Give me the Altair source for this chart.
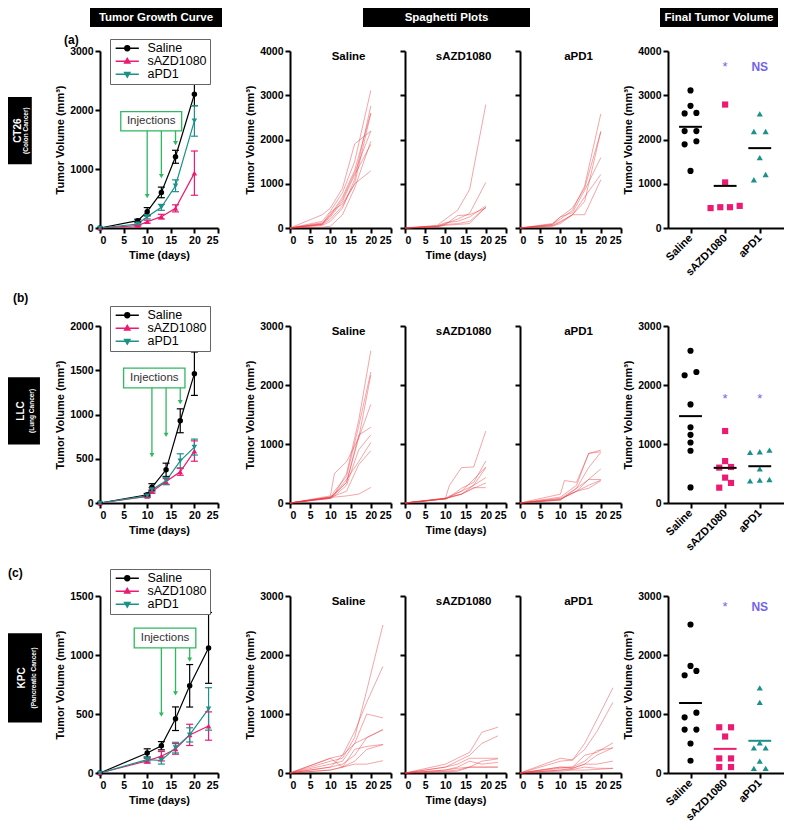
import altair as alt
import pandas as pd

GROUPS = ["Saline", "sAZD1080", "aPD1"]
GROUP_COLORS = ["#000000", "#ec1a72", "#1b9189"]
GROUP_SHAPES = ["circle", "triangle-up", "triangle-down"]
FINAL_SHAPES = ["circle", "square", "triangle-up"]
RED = "#e8383d"
GREEN = "#2fb85f"
SIG = "#7363ea"
FONT = "Liberation Sans"
NUMFONT = "Liberation Sans"
YT = "Tumor Volume (mm\u00b3)"
H = 177

# ---------------- (a) CT26 ----------------
a_days = [0, 8, 10, 13, 16, 20]
a_mean_saline = [0, 124, 276, 603, 1207, 2267]
a_mean_sazd = [0, 40, 107, 192, 333, 930]
a_mean_apd1 = [0, 68, 190, 350, 716, 1816]
a_sem_saline = [0, 25, 70, 90, 110, 195]
a_sem_sazd = [0, 10, 25, 40, 60, 375]
a_sem_apd1 = [0, 15, 35, 50, 100, 260]
a_inj_days = [10, 13, 16]
a_inj_tips = [540, 880, 1440]
a_inj_box = [4.4, 17.3, 1647, 1974]
a_spag_saline = [
    [0, 150, 380, 800, 1500, 3110],
    [0, 60, 150, 450, 1100, 2760],
    [0, 120, 300, 700, 1300, 2600],
    [0, 80, 200, 500, 1000, 2590],
    [0, 300, 450, 900, 1900, 2190],
    [0, 100, 280, 650, 1250, 2190],
    [0, 20, 40, 300, 900, 1960],
    [0, 90, 250, 600, 1200, 1890],
    [0, 80, 350, 550, 1000, 1290],
]
a_spag_sazd = [
    [0, 60, 200, 400, 870, 2790],
    [0, 40, 100, 200, 330, 1030],
    [0, 30, 80, 280, 300, 450],
    [0, 50, 120, 150, 250, 500],
    [0, 30, 80, 100, 150, 470],
    [0, 30, 60, 80, 100, 470],
]
a_spag_apd1 = [
    [0, 80, 200, 400, 950, 2580],
    [0, 100, 250, 450, 900, 2180],
    [0, 60, 150, 300, 600, 2180],
    [0, 80, 250, 350, 850, 1590],
    [0, 40, 100, 300, 700, 1210],
    [0, 50, 130, 300, 300, 1090],
]
a_final_saline = [3110, 2760, 2600, 2590, 2190, 2190, 1960, 1890, 1290]
a_final_sazd = [2790, 1030, 450, 500, 470, 470]
a_final_apd1 = [2580, 2180, 2180, 1590, 1210, 1090]
a_sig = ["", "*", "NS"]
a_sig_y = 3640

# ---------------- (b) LLC ----------------
b_days = [0, 10, 11, 14, 17, 20]
b_mean_saline = [0, 93, 178, 375, 929, 1461]
b_mean_sazd = [0, 74, 130, 242, 353, 587]
b_mean_apd1 = [0, 80, 150, 250, 476, 632]
b_sem_saline = [0, 15, 40, 75, 135, 245]
b_sem_sazd = [0, 12, 20, 35, 40, 115]
b_sem_apd1 = [0, 12, 25, 40, 80, 90]
b_inj_days = [11, 14, 17]
b_inj_tips = [540, 770, 1140]
b_inj_box = [5.0, 18.0, 1301, 1524]
b_spag_saline = [
    [0, 100, 150, 500, 1400, 2580],
    [0, 90, 200, 450, 1300, 2221],
    [0, 80, 150, 350, 1100, 2165],
    [0, 120, 500, 700, 1100, 1671],
    [0, 100, 150, 350, 1150, 1284],
    [0, 80, 120, 300, 900, 1155],
    [0, 90, 150, 400, 700, 1026],
    [0, 100, 120, 200, 650, 886],
    [0, 80, 100, 120, 150, 264],
]
b_spag_sazd = [
    [0, 80, 300, 600, 610, 1220],
    [0, 70, 100, 250, 350, 710],
    [0, 80, 120, 200, 400, 610],
    [0, 70, 100, 200, 300, 600],
    [0, 80, 90, 150, 300, 430],
    [0, 70, 100, 150, 250, 340],
    [0, 70, 100, 150, 260, 260],
]
b_spag_apd1 = [
    [0, 150, 380, 350, 840, 897],
    [0, 100, 150, 300, 840, 869],
    [0, 80, 120, 250, 600, 858],
    [0, 60, 100, 250, 400, 578],
    [0, 70, 100, 200, 400, 398],
    [0, 50, 100, 200, 300, 387],
    [0, 50, 100, 200, 250, 376],
]
b_final_saline = [2580, 2221, 2165, 1671, 1284, 1155, 1026, 886, 264]
b_final_sazd = [1220, 710, 610, 600, 430, 340, 260]
b_final_apd1 = [897, 869, 858, 578, 398, 387, 376]
b_sig = ["", "*", "*"]
b_sig_y = 1755

# ---------------- (c) KPC ----------------
c_days = [0, 10, 13, 16, 19, 23]
c_mean_saline = [0, 170, 231, 460, 739, 1060]
c_mean_sazd = [0, 103, 142, 204, 323, 398]
c_mean_apd1 = [0, 114, 106, 215, 323, 543]
c_sem_saline = [0, 35, 35, 100, 180, 300]
c_sem_sazd = [0, 20, 40, 45, 90, 120]
c_sem_apd1 = [0, 20, 30, 45, 60, 180]
c_inj_days = [13, 16, 19]
c_inj_tips = [495, 675, 960]
c_inj_box = [7.25, 20.3, 1060, 1227]
c_spag_saline = [
    [0, 200, 250, 600, 1400, 2510],
    [0, 100, 300, 700, 1200, 1806],
    [0, 250, 300, 500, 1000, 934],
    [0, 150, 200, 500, 600, 730],
    [0, 100, 150, 300, 600, 740],
    [0, 250, 100, 400, 450, 484],
    [0, 50, 100, 150, 150, 208],
    [0, 50, 100, 200, 400, 480],
]
c_spag_sazd = [
    [0, 150, 250, 350, 690, 777],
    [0, 100, 200, 300, 500, 630],
    [0, 100, 150, 250, 250, 250],
    [0, 50, 100, 200, 150, 180],
    [0, 50, 80, 100, 100, 100],
    [0, 20, 30, 100, 100, 100],
    [0, 30, 50, 100, 200, 240],
]
c_spag_apd1 = [
    [0, 250, 220, 500, 900, 1444],
    [0, 200, 220, 400, 700, 1197],
    [0, 100, 100, 300, 350, 511],
    [0, 80, 100, 200, 380, 427],
    [0, 100, 80, 150, 300, 427],
    [0, 50, 80, 150, 150, 202],
    [0, 50, 60, 100, 80, 79],
    [0, 30, 50, 50, 60, 79],
]
c_final_saline = [2517, 1815, 1730, 1657, 1022, 944, 736, 736, 500, 208]
c_final_sazd = [775, 775, 618, 247, 247, 101, 101]
c_final_apd1 = [1444, 1197, 511, 427, 427, 202, 79, 79]
c_sig = ["", "*", "NS"]
c_sig_y = 2820

ROW_NAMES = ["CT26", "LLC", "KPC"]
ROW_SUBS = ["(Colon Cancer)", "(Lung Cancer)", "(Pancreatic Cancer)"]
HEADERS = ["Tumor Growth Curve", "Spaghetti Plots", "Final Tumor Volume"]

# legend symbols: a short line with the group's marker on it
LEGEND_SYMBOLS = [
    "M-2.9,0H2.9M-0.6,0A0.6,0.6,0,1,0,0.6,0A0.6,0.6,0,1,0,-0.6,0Z",
    "M-2.9,0H2.9M0,-0.7L0.65,0.45L-0.65,0.45Z",
    "M-2.9,0H2.9M0,0.7L0.65,-0.45L-0.65,-0.45Z",
]
DAY_TICKS = [0, 5, 10, 15, 20, 25]


def legend(ly):
    return alt.Legend(
        title=None, orient="none", legendX=10, legendY=ly,
        strokeColor="#666666", fillColor="white", padding=3,
        labelFont=FONT, labelFontSize=12.5, labelColor="black", labelFontWeight="normal",
        labelOffset=14, symbolOffset=8, rowPadding=0, symbolSize=64, symbolStrokeWidth=1.5,
    )


def growth(days, means, sems, ymax, ystep, inj_days, inj_tips, box, ly, title=None):
    recs = []
    for g, m, s in zip(GROUPS, means, sems):
        for d, mv, sv in zip(days, m, s):
            recs.append({"group": g, "day": d, "mean": mv, "lo": mv - sv, "hi": mv + sv})
    df = pd.DataFrame(recs)
    xs = alt.Scale(domain=[0, 25], nice=False)
    ys = alt.Scale(domain=[0, ymax], nice=False)
    xax = alt.Axis(values=DAY_TICKS, labelOverlap=False)
    yax = alt.Axis(values=list(range(0, ymax + 1, ystep)), labelOverlap=False)
    X = alt.X("day:Q", scale=xs, axis=xax, title="Time (days)")
    cscale = alt.Scale(domain=GROUPS, range=GROUP_COLORS)
    lg = legend(ly)
    color = alt.Color("group:N", scale=cscale)
    base = alt.Chart(df)
    leg = base.transform_filter("false").mark_point(filled=True, strokeWidth=1.5, opacity=1).encode(
        x=X, y=alt.Y("mean:Q", scale=ys, axis=yax, title=YT),
        color=alt.Color("group:N", scale=cscale, legend=lg),
        shape=alt.Shape("group:N", scale=alt.Scale(domain=GROUPS, range=LEGEND_SYMBOLS), legend=lg))
    line = base.mark_line(strokeWidth=1.2).encode(
        x=X, y=alt.Y("mean:Q", scale=ys, axis=yax, title=YT), color=color)
    err = base.transform_filter("datum.hi > datum.lo")
    bars = err.mark_rule(strokeWidth=1.2).encode(
        x=X, y=alt.Y("lo:Q", scale=ys, axis=yax, title=YT), y2="hi:Q", color=color)
    cap_lo = err.mark_point(shape="stroke", size=49, strokeWidth=1.2, opacity=1).encode(
        x=X, y=alt.Y("lo:Q", scale=ys, axis=yax, title=YT), color=color)
    cap_hi = err.mark_point(shape="stroke", size=49, strokeWidth=1.2, opacity=1).encode(
        x=X, y=alt.Y("hi:Q", scale=ys, axis=yax, title=YT), color=color)
    pts = [
        base.transform_filter(alt.datum.group == g).mark_point(
            filled=True, shape=shp, size=30, opacity=1).encode(
            x=X, y=alt.Y("mean:Q", scale=ys, axis=yax, title=YT), color=color)
        for g, shp in zip(GROUPS, GROUP_SHAPES)
    ]

    bdf = pd.DataFrame([{"x0": box[0], "x1": box[1], "y0": box[2], "y1": box[3],
                         "xc": (box[0] + box[1]) / 2, "yc": (box[2] + box[3]) / 2, "t": "Injections"}])
    rect = alt.Chart(bdf).mark_rect(fill="white", stroke=GREEN, strokeWidth=1.3).encode(
        x=alt.X("x0:Q", scale=xs, axis=xax, title="Time (days)"), x2="x1:Q",
        y=alt.Y("y0:Q", scale=ys, axis=yax, title=YT), y2="y1:Q")
    txt = alt.Chart(bdf).mark_text(font=FONT, fontSize=11.5, color="#333333").encode(
        x=alt.X("xc:Q", scale=xs, axis=xax, title="Time (days)"),
        y=alt.Y("yc:Q", scale=ys, axis=yax, title=YT), text="t:N")
    idf = pd.DataFrame({"day": inj_days, "tip": inj_tips, "top": [box[2]] * len(inj_days)})
    arrows = alt.Chart(idf).mark_rule(color=GREEN, strokeWidth=1.3).encode(
        x=alt.X("day:Q", scale=xs, axis=xax, title="Time (days)"),
        y=alt.Y("top:Q", scale=ys, axis=yax, title=YT), y2="tip:Q")
    heads = alt.Chart(idf).mark_point(shape="triangle-down", filled=True, size=24, color=GREEN,
                                      opacity=1).encode(
        x=alt.X("day:Q", scale=xs, axis=xax, title="Time (days)"),
        y=alt.Y("tip:Q", scale=ys, axis=yax, title=YT))
    ch = alt.layer(leg, line, bars, cap_lo, cap_hi, *pts, rect, txt, arrows, heads).properties(
        width=118, height=H)
    if title is not None:
        ch = ch.properties(title=title)
    return ch


def spag(days, lines, ymax, name, first, middle):
    recs = [{"id": i, "day": d, "vol": v} for i, ln in enumerate(lines) for d, v in zip(days, ln)]
    df = pd.DataFrame(recs)
    xs = alt.Scale(domain=[0, 25], nice=False)
    ys = alt.Scale(domain=[0, ymax], nice=False)
    xt = "Time (days)" if middle else None
    yt = YT if first else None
    xax = alt.Axis(values=DAY_TICKS, labelOverlap=False)
    yax = alt.Axis(values=list(range(0, ymax + 1, 1000)), labelOverlap=False, labels=first)
    ln = alt.Chart(df).mark_line(color=RED, strokeWidth=1, opacity=0.45).encode(
        x=alt.X("day:Q", scale=xs, axis=xax, title=xt),
        y=alt.Y("vol:Q", scale=ys, axis=yax, title=yt), detail="id:N")
    lbl = alt.Chart(pd.DataFrame({"t": [name]})).mark_text(
        font=FONT, fontWeight="bold", fontSize=11.5, color="black").encode(
        x=alt.XDatum(14.5, scale=xs, axis=xax, title=xt),
        y=alt.YDatum(ymax * 0.965, scale=ys, axis=yax, title=yt), text="t:N")
    return alt.layer(ln, lbl).properties(width=101, height=H)


def jitter(vals, ymax):
    thr = ymax * 0.04
    order = sorted(range(len(vals)), key=lambda i: vals[i])
    clusters = []
    for i in order:
        if clusters and vals[i] - vals[clusters[-1][-1]] < thr:
            clusters[-1].append(i)
        else:
            clusters.append([i])
    offs = [0.0] * len(vals)
    for c in clusters:
        n = len(c)
        if n == 1:
            continue
        spread = vals[c[-1]] - vals[c[0]]
        if n == 2:
            pat = [-0.17, 0.17]
        elif n == 3 and spread > thr * 0.5:
            pat = [-0.17, 0.17, 0.0]
        else:
            pat = [(k - (n - 1) / 2) * 0.28 for k in range(n)]
        for i, o in zip(c, pat):
            offs[i] = o
    return offs


def final(vals, ymax, sig, sig_y, mean_colors):
    recs = []
    mrecs = []
    for gi, (g, v) in enumerate(zip(GROUPS, vals)):
        for val, o in zip(v, jitter(v, ymax)):
            recs.append({"group": g, "gx": gi + o, "vol": val})
        mrecs.append({"gx0": gi - 0.33, "gx1": gi + 0.33, "m": sum(v) / len(v), "mc": mean_colors[gi]})
    df = pd.DataFrame(recs)
    mdf = pd.DataFrame(mrecs)
    xs = alt.Scale(domain=[-0.65, 2.7], nice=False)
    ys = alt.Scale(domain=[0, ymax], nice=False)
    xax = alt.Axis(values=[0, 1, 2], labelAngle=-45, labelAlign="right", labelBaseline="middle",
                   labelPadding=3, labelOverlap=False, title=None, labelFont=FONT, labelFontSize=11,
                   labelExpr="datum.value == 0 ? 'Saline' : datum.value == 1 ? 'sAZD1080' : 'aPD1'")
    yax = alt.Axis(values=list(range(0, ymax + 1, 1000)), labelOverlap=False, title=YT)
    pts = alt.Chart(df).mark_point(filled=True, size=38, opacity=1).encode(
        x=alt.X("gx:Q", scale=xs, axis=xax), y=alt.Y("vol:Q", scale=ys, axis=yax),
        color=alt.Color("group:N", scale=alt.Scale(domain=GROUPS, range=GROUP_COLORS), legend=None),
        shape=alt.Shape("group:N", scale=alt.Scale(domain=GROUPS, range=FINAL_SHAPES), legend=None))
    mean = alt.Chart(mdf).mark_rule(strokeWidth=2).encode(
        x=alt.X("gx0:Q", scale=xs, axis=xax), x2="gx1:Q",
        y=alt.Y("m:Q", scale=ys, axis=yax), color=alt.Color("mc:N", scale=None))
    sdf = pd.DataFrame({"gx": [0, 1, 2], "t": sig, "sy": [sig_y] * 3})
    star = alt.Chart(sdf).transform_filter("datum.t == '*'").mark_text(
        font=FONT, fontSize=13, color=SIG).encode(
        x=alt.X("gx:Q", scale=xs, axis=xax), y=alt.Y("sy:Q", scale=ys, axis=yax), text="t:N")
    ns = alt.Chart(sdf).transform_filter("datum.t == 'NS'").mark_text(
        font=FONT, fontSize=12, fontWeight="bold", color=SIG).encode(
        x=alt.X("gx:Q", scale=xs, axis=xax), y=alt.Y("sy:Q", scale=ys, axis=yax), text="t:N")
    return alt.layer(pts, mean, star, ns).properties(width=116, height=H)


def rowlabel(name, sub, xf, lo, hi, title=None):
    xs = alt.Scale(domain=[0, 1])
    ys = alt.Scale(domain=[0, 1])
    df = pd.DataFrame({"k": [0]})
    rect = alt.Chart(df).mark_rect(color="black").encode(
        x=alt.XDatum(0, scale=xs, axis=None), x2=alt.datum(xf),
        y=alt.YDatum(lo, scale=ys, axis=None), y2=alt.datum(hi))
    t1 = alt.Chart(df).mark_text(text=name, angle=270, color="white", font=FONT, fontWeight="bold",
                                 fontSize=10).encode(
        x=alt.XDatum(xf * 0.42, scale=xs, axis=None), y=alt.YDatum((lo + hi) / 2, scale=ys, axis=None))
    t2 = alt.Chart(df).mark_text(text=sub, angle=270, color="white", font=FONT, fontWeight="bold",
                                 fontSize=6.5).encode(
        x=alt.XDatum(xf * 0.75, scale=xs, axis=None), y=alt.YDatum((lo + hi) / 2, scale=ys, axis=None))
    ch = alt.layer(rect, t1, t2).properties(width=34, height=H)
    if title is not None:
        ch = ch.properties(title=title)
    return ch


def res(c):
    return c.resolve_scale(color="independent", shape="independent").resolve_legend(
        color="independent", shape="independent")


def header(text, w):
    return alt.Chart(pd.DataFrame({"t": [text]})).mark_text(
        color="white", font=FONT, fontWeight="bold", fontSize=11.5).encode(text="t:N").properties(
        width=w, height=19, view=alt.ViewBackground(fill="black", stroke=None))


def spacer(w):
    return alt.Chart(pd.DataFrame({"t": [""]})).mark_text().encode(text="t:N").properties(width=w, height=19)


def letter(t, dx, off, frame="bounds"):
    return alt.TitleParams(text=t, anchor="start", dx=dx, offset=off, frame=frame,
                           font=FONT, fontSize=12, fontWeight="bold", color="black")


def row(label, g, s, f):
    left = res(alt.hconcat(label, g, spacing=12))
    mid = res(alt.hconcat(left, s, spacing=25))
    return res(alt.hconcat(mid, f, spacing=0))


def spag_group(days, lines3, ymax):
    return res(alt.hconcat(spag(days, lines3[0], ymax, GROUPS[0], True, False),
                           spag(days, lines3[1], ymax, GROUPS[1], False, True),
                           spag(days, lines3[2], ymax, GROUPS[2], False, False), spacing=7))


head = alt.hconcat(spacer(82), header(HEADERS[0], 132), spacer(141), header(HEADERS[1], 167),
                   spacer(130), header(HEADERS[2], 118), spacing=0)

rowA = row(
    rowlabel(ROW_NAMES[0], ROW_SUBS[0], 0.7, 0.36, 0.74),
    growth(a_days, [a_mean_saline, a_mean_sazd, a_mean_apd1], [a_sem_saline, a_sem_sazd, a_sem_apd1],
           3000, 1000, a_inj_days, a_inj_tips, a_inj_box, -12, title=letter("(a)", -36, -8, "group")),
    spag_group(a_days, [a_spag_saline, a_spag_sazd, a_spag_apd1], 4000),
    final([a_final_saline, a_final_sazd, a_final_apd1], 4000, a_sig, a_sig_y, ["black"] * 3),
)
rowB = row(
    rowlabel(ROW_NAMES[1], ROW_SUBS[1], 0.94, 0.33, 0.71, title=letter("(b)", 5, 21)),
    growth(b_days, [b_mean_saline, b_mean_sazd, b_mean_apd1], [b_sem_saline, b_sem_sazd, b_sem_apd1],
           2000, 500, b_inj_days, b_inj_tips, b_inj_box, -20),
    spag_group(b_days, [b_spag_saline, b_spag_sazd, b_spag_apd1], 3000),
    final([b_final_saline, b_final_sazd, b_final_apd1], 3000, b_sig, b_sig_y, ["black"] * 3),
)
rowC = row(
    rowlabel(ROW_NAMES[2], ROW_SUBS[2], 1.0, 0.285, 0.79, title=letter("(c)", 0, 16)),
    growth(c_days, [c_mean_saline, c_mean_sazd, c_mean_apd1], [c_sem_saline, c_sem_sazd, c_sem_apd1],
           1500, 500, c_inj_days, c_inj_tips, c_inj_box, -27),
    spag_group(c_days, [c_spag_saline, c_spag_sazd, c_spag_apd1], 3000),
    final([c_final_saline, c_final_sazd, c_final_apd1], 3000, c_sig, c_sig_y, GROUP_COLORS),
)

rows = res(alt.vconcat(rowA, rowB, rowC, spacing=14))
chart = res(alt.vconcat(head, rows, spacing=6))

chart = chart.configure_axis(
    domainColor="black", domainWidth=2, tickColor="black", tickWidth=2, tickSize=5,
    labelFont=NUMFONT, labelFontSize=10.5, labelFontWeight="bold", labelColor="black", labelPadding=2,
    titleFont=FONT, titleFontSize=11, titleFontWeight="bold", titleColor="black", titlePadding=4,
    grid=False, format="d",
).configure_view(strokeWidth=0).configure_title(font=FONT).properties(padding=0, background="white")

chart.save("out.html", embed_options={"renderer": "svg", "actions": False})
